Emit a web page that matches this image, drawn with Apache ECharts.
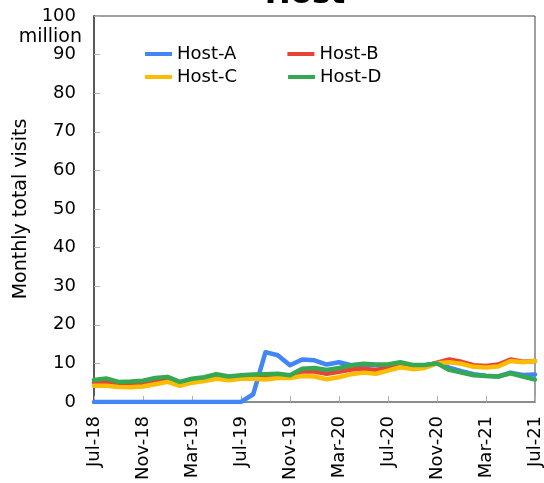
<!DOCTYPE html>
<html>
<head>
<meta charset="utf-8">
<script src="https://cdn.jsdelivr.net/npm/echarts@6.0.0/dist/echarts.min.js"></script>
<style>
  html, body { margin: 0; padding: 0; background: #fff; }
  #chart { width: 544px; height: 483px; }
</style>
</head>
<body>
<div id="chart"></div>
<script>
// Months from Jul-18 to Jul-21
const months = [
  'Jul-18','Aug-18','Sep-18','Oct-18','Nov-18','Dec-18',
  'Jan-19','Feb-19','Mar-19','Apr-19','May-19','Jun-19',
  'Jul-19','Aug-19','Sep-19','Oct-19','Nov-19','Dec-19',
  'Jan-20','Feb-20','Mar-20','Apr-20','May-20','Jun-20',
  'Jul-20','Aug-20','Sep-20','Oct-20','Nov-20','Dec-20',
  'Jan-21','Feb-21','Mar-21','Apr-21','May-21','Jun-21','Jul-21'
];

// Monthly total visits, in millions
const hostA = [
  0, 0, 0, 0, 0, 0, 0, 0, 0, 0, 0, 0,
  0, 2.0, 12.9, 12.1, 9.5, 11.0, 10.8, 9.7, 10.3, 9.5, 9.7, 9.5,
  9.5, 10.1, 9.4, 9.5, 10.0, 8.9, 8.0, 7.2, 6.8, 6.6, 7.6, 7.0, 7.1
];
const hostB = [
  5.0, 5.3, 4.7, 4.8, 5.0, 5.6, 5.8, 4.9, 5.7, 6.0, 6.5, 6.2,
  6.5, 6.6, 6.5, 6.8, 6.7, 7.9, 7.9, 7.3, 7.8, 8.4, 8.6, 8.3,
  8.9, 9.6, 8.9, 9.3, 10.2, 11.0, 10.4, 9.5, 9.3, 9.7, 11.0, 10.4, 10.6
];
const hostC = [
  4.2, 4.2, 3.9, 3.8, 4.0, 4.6, 5.2, 4.2, 5.0, 5.4, 6.0, 5.6,
  6.0, 6.0, 5.8, 6.2, 6.2, 6.7, 6.6, 5.9, 6.4, 7.2, 7.6, 7.3,
  8.1, 9.0, 8.5, 8.8, 10.0, 10.3, 9.9, 9.1, 8.9, 9.2, 10.6, 10.3, 10.6
];
const hostD = [
  5.7, 6.1, 5.2, 5.3, 5.5, 6.2, 6.5, 5.2, 6.0, 6.4, 7.2, 6.6,
  6.9, 7.1, 7.2, 7.3, 6.9, 8.6, 8.8, 8.3, 8.8, 9.5, 9.9, 9.7,
  9.7, 10.3, 9.6, 9.6, 10.0, 8.3, 7.6, 6.9, 6.7, 6.6, 7.4, 6.6, 5.8
];

const yTicks = { min: 0, max: 100, step: 10 };
const seriesNames = ['Host-A', 'Host-B', 'Host-C', 'Host-D'];
const seriesColors = ['#4285F4', '#EA4335', '#FBBC04', '#34A853'];
const seriesValues = [hostA, hostB, hostC, hostD];

const FONT = 'DejaVu Sans';
const chart = echarts.init(document.getElementById('chart'), null, { renderer: 'canvas' });

const legendCommon = {
  orient: 'horizontal',
  icon: 'rect',
  itemWidth: 27,
  itemHeight: 4,
  itemGap: 51,
  padding: 0,
  selectedMode: false,
  textStyle: { fontFamily: FONT, fontSize: 18, color: '#000', padding: [0, 0, 0, 0] }
};

chart.setOption({
  animation: false,
  backgroundColor: '#fff',
  textStyle: { fontFamily: FONT },
  grid: {
    left: 94, right: 7, top: 16, bottom: 79,
    show: true,
    borderColor: '#404040',
    borderWidth: 1,
    containLabel: false
  },
  legend: [
    Object.assign({ data: seriesNames.slice(0, 2), left: 145, top: 45 }, legendCommon),
    Object.assign({ data: seriesNames.slice(2, 4), left: 145, top: 68 }, legendCommon)
  ],
  xAxis: {
    type: 'category',
    data: months,
    boundaryGap: false,
    axisLine: { show: true, lineStyle: { color: '#8c8c8c', width: 2 } },
    axisTick: { show: true, inside: true, length: 6, interval: 3, lineStyle: { color: '#b0b0b0', width: 1 } },
    axisLabel: {
      interval: 3,
      rotate: 90,
      margin: 14,
      color: '#000',
      fontFamily: FONT,
      fontSize: 18,
      showMaxLabel: true
    },
    splitLine: { show: false }
  },
  yAxis: {
    type: 'value',
    min: yTicks.min,
    max: yTicks.max,
    interval: yTicks.step,
    name: 'Monthly total visits',
    nameLocation: 'middle',
    nameGap: 60,
    nameTextStyle: { fontFamily: FONT, fontSize: 19, color: '#000' },
    axisLine: { show: true, lineStyle: { color: '#595959', width: 2 } },
    axisTick: { show: true, inside: true, length: 6, lineStyle: { color: '#b0b0b0', width: 1 } },
    axisLabel: { margin: 18, color: '#000', fontFamily: FONT, fontSize: 18 },
    splitLine: { show: false }
  },
  graphic: [
    {
      type: 'text',
      x: 305, y: 10,
      style: {
        text: 'Host',
        font: 'bold 31px "DejaVu Sans"',
        fill: '#000',
        textAlign: 'center',
        textVerticalAlign: 'bottom'
      }
    },
    {
      type: 'text',
      x: 82, y: 37,
      style: {
        text: 'million',
        font: '19px "DejaVu Sans"',
        fill: '#000',
        textAlign: 'right',
        textVerticalAlign: 'middle'
      }
    }
  ],
  series: seriesNames.map((name, i) => ({
    name: name,
    type: 'line',
    data: seriesValues[i],
    showSymbol: false,
    symbol: 'none',
    smooth: false,
    color: seriesColors[i],
    lineStyle: { color: seriesColors[i], width: 4.5, join: 'round', cap: 'round' },
    emphasis: { disabled: true }
  }))
});
</script>
</body>
</html>
